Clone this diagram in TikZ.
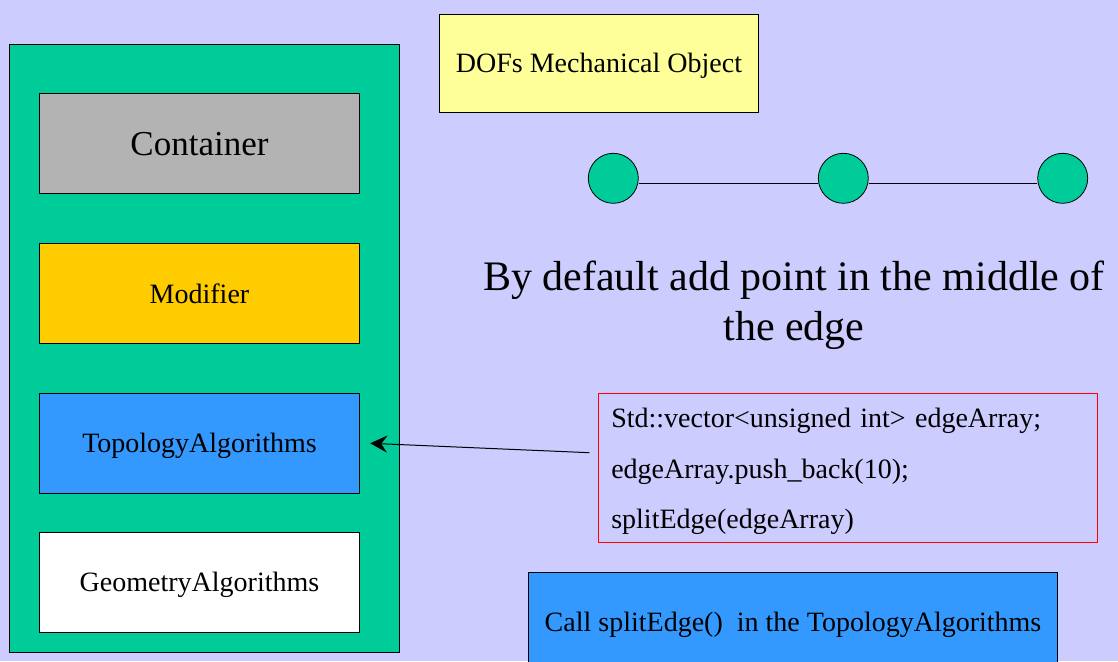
\documentclass[tikz,border=0pt]{standalone}
\usepackage{fontspec}
\setmainfont{Liberation Serif}
\usetikzlibrary{arrows.meta}
\definecolor{bgcol}{HTML}{CCCCFF}
\definecolor{greencol}{HTML}{00CC99}
\definecolor{goldcol}{HTML}{FFCC00}
\definecolor{bluecol}{HTML}{3399FF}
\definecolor{yellowcol}{HTML}{FFFF99}
\definecolor{graycol}{HTML}{B3B3B3}
\tikzset{
  box/.style={draw=black, line width=1pt, rectangle, inner sep=0pt,
    minimum width=320.4pt, minimum height=100pt,
    font=\fontsize{28}{34}\selectfont, text height=18.5pt, text depth=0pt},
  dot/.style={circle, draw=black, line width=0.8pt, fill=greencol, inner sep=0pt, minimum size=50pt},
}
\begin{document}
\begin{tikzpicture}[x=1pt,y=-1pt]
\useasboundingbox (0,0) rectangle (1118,661);
\clip (0,0) rectangle (1118,661);
\fill[bgcol] (0,0) rectangle (1118,661);

% left panel
\node[draw=black, line width=1pt, fill=greencol, rectangle, inner sep=0pt,
      minimum width=390.4pt, minimum height=608pt] (panel) at (204.5,348.3) {};
\node[box, fill=graycol, font=\fontsize{35}{42}\selectfont, text height=25pt] (container) at (199.5,143.3) {Container};
\node[box, fill=goldcol, text height=20pt] (modifier) at (199.5,293.3) {Modifier};
\node[box, fill=bluecol] (topo) at (199.5,443.3) {TopologyAlgorithms};
\node[box, fill=white] (geom) at (199.5,582.3) {GeometryAlgorithms};

% DOFs
\node[box, fill=yellowcol, minimum width=319.7pt, minimum height=98.7pt] (dofs) at (599,63.6) {DOFs Mechanical Object};

% edge with points
\node[dot] (c1) at (613.3,178.3) {};
\node[dot] (c2) at (843.3,178.3) {};
\node[dot] (c3) at (1062.7,178.3) {};
\draw[line width=1pt] ([yshift=-5pt]c1.east) -- ([yshift=-5pt]c2.west);
\draw[line width=1pt] ([yshift=-5pt]c2.east) -- ([yshift=-5pt]c3.west);

% big text
\node[align=center, inner sep=0pt, font=\fontsize{42}{50}\selectfont] (note) at (794,304.8)
  {By default add point in the middle of\\the edge};

% code box
\node[draw=red, line width=1pt, rectangle, inner xsep=13pt, inner ysep=0pt,
      text width=473pt, minimum height=149pt, align=left,
      font=\fontsize{28}{50.65}\selectfont] (code) at (847.8,467.8)
  {\rule{0pt}{28pt}Std::vector<unsigned int> edgeArray;\\
   edgeArray.push\_back(10);\\
   splitEdge(edgeArray)\rule[-7pt]{0pt}{7pt}};

% call box
\node[box, fill=bluecol, minimum width=529.4pt] (call) at (793,622.3) {Call splitEdge()\ \ in the TopologyAlgorithms};

% arrow
\coordinate (arrstart) at (589.3,452.7);
\draw[line width=1pt, -{Stealth[length=17pt, width=17pt, inset=6pt]}] (arrstart) -- ([xshift=10pt]topo.east);
\end{tikzpicture}
\end{document}
